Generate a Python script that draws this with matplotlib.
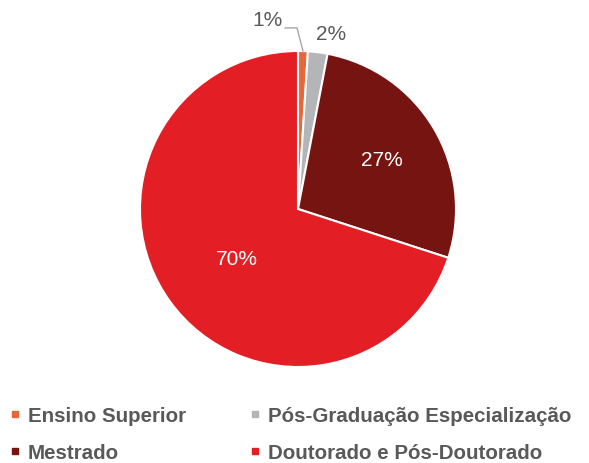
import numpy as np
import matplotlib.pyplot as plt

labels = ['Ensino Superior', 'Pós-Graduação Especialização', 'Mestrado', 'Doutorado e Pós-Doutorado']
values = [1, 2, 27, 70]
colors = ['#E8673A', '#B3B5B8', '#751410', '#E31E24']
pct_labels = ['1%', '2%', '27%', '70%']

plt.rcParams['font.family'] = ['Liberation Sans', 'DejaVu Sans']
TXT = '#595959'

fig = plt.figure(figsize=(5.89, 4.64), dpi=100)
W, H = 589, 464
cx, cy, r = 298, 210, 158
ax = fig.add_axes([(cx - r) / W, (H - cy - r) / H, 2 * r / W, 2 * r / H])
wedges, _ = ax.pie(values, colors=colors, startangle=90, counterclock=False,
                   radius=1, wedgeprops=dict(edgecolor='white', linewidth=1.5))
ax.set_xlim(-1, 1)
ax.set_ylim(-1, 1)
ax.set_aspect('equal')
ax.axis('off')

# percentage labels (angle offset, distance from centre)
cum = np.cumsum([0] + values[:-1])
total = sum(values)
dist = [None, 1.13, 0.62, 0.50]
shift = [0, -3.5, 0, 3]
for i, (v, c0) in enumerate(zip(values, cum)):
    if i == 0:
        continue
    ang = np.deg2rad(90 - (c0 + v / 2) / total * 360 + shift[i])
    col = TXT if i == 1 else 'white'
    ax.text(dist[i] * np.cos(ang), dist[i] * np.sin(ang), pct_labels[i],
            ha='center', va='center', fontsize=15, color=col)

# 1% label with leader line
a0 = np.deg2rad(90 - (values[0] / 2) / total * 360)
px, py = np.cos(a0), np.sin(a0)
ax.plot([-0.082, -0.006, px], [1.146, 1.146, 1.0], color='#A6A6A6', lw=1, clip_on=False)
ax.text(-0.19, 1.20, pct_labels[0], ha='center', va='center', fontsize=15, color=TXT)

# legend, laid out in rows of two
xs = [12, 252]
ys = [414.5, 451.5]
for k, (lab, c) in enumerate(zip(labels, colors)):
    x = xs[k % 2]
    y = ys[k // 2]
    fig.patches.append(plt.Rectangle((x / W, (H - y - 3) / H), 6 / W, 6 / H,
                                     transform=fig.transFigure, color=c))
    fig.text((x + 16) / W, (H - y) / H, lab, ha='left', va='center_baseline',
             fontsize=14.8, fontweight='bold', color=TXT)

fig.savefig('out.png', dpi=100)
